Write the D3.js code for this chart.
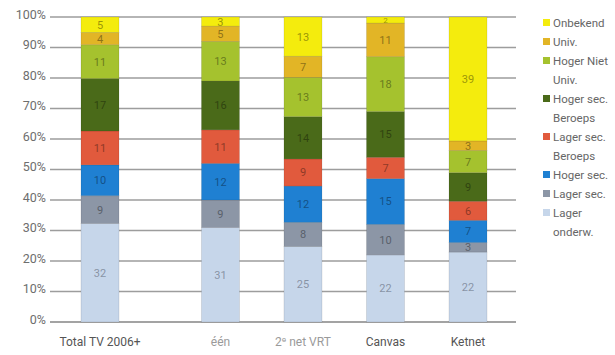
<!DOCTYPE html>
<html>
<head>
<meta charset="utf-8">
<script src="https://cdn.jsdelivr.net/npm/d3@7"></script>
<style>
  html, body { margin: 0; padding: 0; background: #fff; }
  svg text { font-family: Roboto, "Open Sans", "Noto Sans", sans-serif; font-weight: 400; }
</style>
</head>
<body>
<svg id="chart" width="615" height="355"></svg>
<script>
// Zenders (kolommen)
const categories = ["Total TV 2006+", "één", "2ᵉ net VRT", "Canvas", "Ketnet"];

// Opleidingsniveau, van onder naar boven gestapeld
const levels = ["Lager onderw.", "Lager sec.", "Hoger sec.", "Lager sec. Beroeps",
                "Hoger sec. Beroeps", "Hoger Niet Univ.", "Univ.", "Onbekend"];

// Aandelen per zender (%), volgorde zoals in levels
const lagerOnderw    = [32, 31, 25, 22, 22];
const lagerSec       = [ 9,  9,  8, 10,  3];
const hogerSec       = [10, 12, 12, 15,  7];
const lagerSecBer    = [11, 11,  9,  7,  6];
const hogerSecBer    = [17, 16, 14, 15,  9];
const hogerNietUniv  = [11, 13, 13, 18,  7];
const univ           = [ 4,  5,  7, 11,  3];
const onbekend       = [ 5,  3, 13,  2, 39];

const yTicks = [0, 10, 20, 30, 40, 50, 60, 70, 80, 90, 100];

// Legend, top to bottom
const legendItems = [
  { key: "Onbekend",           lines: ["Onbekend"] },
  { key: "Univ.",              lines: ["Univ."] },
  { key: "Hoger Niet Univ.",   lines: ["Hoger Niet", "Univ."] },
  { key: "Hoger sec. Beroeps", lines: ["Hoger sec.", "Beroeps"] },
  { key: "Lager sec. Beroeps", lines: ["Lager sec.", "Beroeps"] },
  { key: "Hoger sec.",         lines: ["Hoger sec."] },
  { key: "Lager sec.",         lines: ["Lager sec."] },
  { key: "Lager onderw.",      lines: ["Lager", "onderw."] }
];

const colors = d3.scaleOrdinal()
  .domain(levels)
  .range(["#c6d6ea", "#8c96a6", "#1f80d2", "#e15a3d", "#4a6a19", "#a5c22e", "#e2b526", "#f4ec0d"]);

const seriesArrays = [lagerOnderw, lagerSec, hogerSec, lagerSecBer, hogerSecBer, hogerNietUniv, univ, onbekend];
const rows = categories.map((c, i) => {
  const r = { category: c, index: i };
  levels.forEach((l, j) => { r[l] = seriesArrays[j][i]; });
  return r;
});

const stack = d3.stack().keys(levels).offset(d3.stackOffsetExpand);
const series = stack(rows);

const svg = d3.select("#chart");

const plotTop = 17, plotBottom = 322;
const y = d3.scaleLinear().domain([0, 1]).range([plotBottom, plotTop]);
const yTickScale = d3.scaleLinear().domain([0, 100]).range([plotBottom, plotTop]);

// The total column stands a little apart from the individual channels
const groupGap = 0.46;
const slot = i => i + (i > 0 ? groupGap : 0);
const x = d3.scaleLinear().domain([0, 4 + groupGap]).range([100, 468]);
const barW = 38;

// Gridlines
const gridX0 = 50, gridX1 = 516;
svg.append("g")
  .selectAll("line")
  .data(yTicks)
  .join("line")
  .attr("x1", gridX0).attr("x2", gridX1)
  .attr("y1", d => yTickScale(d)).attr("y2", d => yTickScale(d))
  .attr("stroke", d => d === 0 ? "#858585" : "#9d9d9d")
  .attr("stroke-width", 1.3);

// Y axis labels
const yAxis = d3.axisLeft(yTickScale).tickValues(yTicks).tickFormat(d => d + "%").tickSize(0).tickPadding(0);
const yg = svg.append("g").attr("transform", "translate(46,0)").call(yAxis);
yg.select(".domain").remove();
yg.selectAll("text")
  .attr("fill", "#6e6e6e")
  .attr("font-size", 12.5)
  .attr("font-family", "Roboto, sans-serif")
  .attr("font-weight", 300)
  .attr("dy", "0.1em");

// Bars
const layer = svg.append("g")
  .selectAll("g")
  .data(series)
  .join("g")
  .attr("fill", d => colors(d.key));

layer.selectAll("rect")
  .data(d => d)
  .join("rect")
  .attr("x", d => x(slot(d.data.index)) - barW / 2)
  .attr("width", barW)
  .attr("y", d => y(d[1]))
  .attr("height", d => y(d[0]) - y(d[1]))
  .attr("stroke", "rgba(0,0,0,0.12)")
  .attr("stroke-width", 0.8);

// Value labels in the segments
layer.each(function(s) {
  const col = d3.color(colors(s.key));
  const txtCol = s.key === "Lager onderw." ? "#7c8798" : col.darker(1.6).formatHex();
  d3.select(this).selectAll("text")
    .data(s)
    .join("text")
    .attr("x", d => x(slot(d.data.index)))
    .attr("y", d => (y(d[0]) + y(d[1])) / 2)
    .attr("dy", "0.36em")
    .attr("text-anchor", "middle")
    .attr("font-size", d => (y(d[0]) - y(d[1])) < 8 ? 8 : 11)
    .attr("fill", txtCol)
    .attr("fill-opacity", 0.85)
    .text(d => d.data[s.key]);
});

// Category labels
svg.append("g")
  .selectAll("text")
  .data(rows)
  .join("text")
  .attr("x", d => x(slot(d.index)))
  .attr("y", 346)
  .attr("text-anchor", "middle")
  .attr("font-size", 12)
  .attr("font-weight", 300)
  .attr("fill", d => (d.index === 1 || d.index === 2) ? "#9a9a9a" : "#555")
  .text(d => d.category);

// Legend
const legend = svg.append("g").attr("transform", "translate(543,0)");
let lineY = 23;
legendItems.forEach(item => {
  legend.append("rect")
    .attr("x", 0).attr("y", lineY - 4)
    .attr("width", 7).attr("height", 7)
    .attr("fill", colors(item.key));
  item.lines.forEach(t => {
    legend.append("text")
      .attr("x", 10).attr("y", lineY)
      .attr("dy", "0.35em")
      .attr("font-size", 11.5)
      .attr("font-weight", 300)
      .attr("fill", "#666")
      .text(t);
    lineY += 19;
  });
});
</script>
</body>
</html>
